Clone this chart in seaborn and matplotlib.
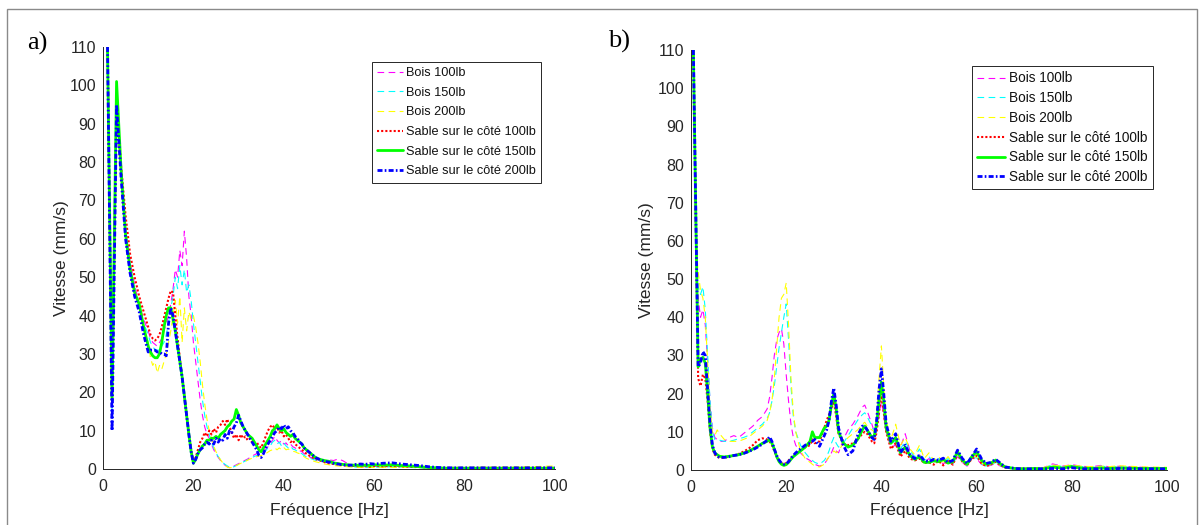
import matplotlib
matplotlib.use("Agg")
import matplotlib.pyplot as plt
from matplotlib.patches import Rectangle
import numpy as np
import pandas as pd
import seaborn as sns

# ---------------------------------------------------------------- data
labels = ["Bois 100lb", "Bois 150lb", "Bois 200lb",
          "Sable sur le côté 100lb", "Sable sur le côté 150lb",
          "Sable sur le côté 200lb"]

# (a) frequency grid [Hz] and velocity spectra [mm/s]
freq_a = [1, 2, 3, 4, 5, 6, 7, 8, 9, 10,
          10.5, 11, 11.5, 12, 12.5, 13, 13.5, 14, 14.5, 15,
          15.5, 16, 16.5, 17, 17.5, 18, 18.5, 19, 19.5, 20,
          20.5, 21, 21.5, 22, 22.5, 23, 23.5, 24, 24.5, 25,
          25.5, 26, 26.5, 27, 27.5, 28, 28.5, 29, 29.5, 30,
          30.5, 31, 31.5, 32, 32.5, 33, 33.5, 34, 34.5, 35,
          35.5, 36, 36.5, 37, 37.5, 38, 38.5, 39, 39.5, 40,
          40.5, 41, 41.5, 42, 42.5, 43, 43.5, 44, 44.5, 45,
          46, 47, 48, 49, 50, 51, 52, 53, 54, 55,
          56, 57, 58, 59, 60, 62, 64, 66, 68, 70,
          72, 74, 76, 78, 80, 85, 90, 95, 100]

bois100_a = [110, 16, 93, 77, 62, 54, 48, 43, 39, 36,
             34, 33, 32.5, 32, 33, 34, 36, 38, 40, 43,
             47, 52, 50, 57, 53, 62, 55, 45, 40, 33,
             28, 23, 18, 14, 11, 9, 8, 6.5, 5, 4,
             3, 2.2, 1.5, 1, 0.6, 0.4, 0.5, 0.8, 1.1, 1.4,
             1.7, 2, 2.3, 2.6, 3, 3.4, 3.7, 4, 4.2, 4.5,
             4.8, 5.2, 5.8, 6.5, 7.5, 8.5, 7.5, 6.8, 7.5, 6.5,
             6.8, 6, 6.5, 5.8, 5.5, 5, 4.8, 4.5, 4, 3.5,
             3, 2.6, 2.3, 2, 2.4, 2.2, 2.6, 2.2, 1.5, 1,
             0.6, 0.5, 0.6, 0.5, 0.7, 0.6, 0.8, 0.6, 0.5, 0.4,
             0.3, 0.3, 0.3, 0.3, 0.3, 0.3, 0.3, 0.3, 0.3]

bois150_a = [110, 14, 93, 76, 61, 53, 47, 42, 38, 35,
             33, 32, 31, 31, 31, 32, 33, 35, 38, 42,
             45, 50, 47, 53, 48, 52, 46, 48, 44, 38,
             33, 28, 23, 18, 14, 11, 9, 7, 5.5, 4.2,
             3.2, 2.4, 1.7, 1.2, 0.8, 0.5, 0.4, 0.6, 0.9, 1.2,
             1.5, 1.8, 2.1, 2.4, 2.7, 3, 3.3, 3.5, 3.8, 4,
             4.3, 4.8, 5.5, 6, 7, 7.5, 6.5, 7, 6, 6.8,
             6, 5.5, 6, 5.2, 5, 4.6, 4.2, 4, 3.5, 3.2,
             2.7, 2.3, 2, 1.8, 1.6, 1.4, 1.3, 1.1, 0.9, 0.7,
             0.5, 0.5, 0.5, 0.4, 0.5, 0.5, 0.6, 0.5, 0.4, 0.3,
             0.3, 0.3, 0.3, 0.3, 0.3, 0.3, 0.3, 0.3, 0.3]

bois200_a = [110, 18, 91, 75, 60, 52, 46, 42, 37, 33,
             29, 27, 28, 25, 27, 26, 28, 30, 33, 36,
             40, 44, 38, 45, 33, 42, 36, 41, 39, 40,
             37, 33, 28, 22, 17, 13, 10, 8, 6, 4.5,
             3.3, 2.4, 1.6, 1, 0.5, 0.3, 0.4, 0.6, 0.9, 1.2,
             1.5, 1.8, 2, 2.3, 2.6, 2.8, 3, 3.2, 3.4, 3.5,
             3.8, 4, 4.4, 4.8, 5, 5.5, 5, 5.5, 5, 5.6,
             5, 5.2, 4.8, 4.6, 4.5, 4.2, 4, 3.6, 3.2, 2.8,
             2.3, 1.9, 1.6, 1.3, 1.1, 0.9, 0.8, 0.7, 0.6, 0.5,
             0.4, 0.4, 0.4, 0.4, 0.4, 0.4, 0.4, 0.4, 0.4, 0.4,
             0.4, 0.4, 0.4, 0.4, 0.4, 0.5, 0.5, 0.6, 0.8]

sable100_a = [110, 17, 96, 79, 66, 56, 50, 45, 41, 37,
              35, 34, 33.5, 34, 35, 37, 39.5, 42, 44.5, 46.5,
              46, 40, 34, 29, 24, 19, 14, 9, 5, 2,
              3, 5, 7, 8, 9.5, 8.5, 10, 9, 10.5, 9.5,
              11, 11.5, 12.5, 11.5, 13, 11, 9.5, 8, 9, 7.5,
              9, 8, 8.5, 7.5, 8, 7, 6.5, 7, 6, 5.5,
              7, 8.5, 10, 11, 11.5, 10.5, 11, 9.5, 10, 8.5,
              9, 8, 7, 7.5, 6.5, 6, 5.5, 5, 4.5, 4,
              3.2, 2.6, 2.2, 1.8, 1.5, 1.3, 1.2, 1, 0.9, 0.8,
              0.8, 0.7, 0.8, 0.6, 0.8, 0.7, 0.8, 0.7, 0.6, 0.5,
              0.4, 0.3, 0.3, 0.3, 0.3, 0.3, 0.3, 0.3, 0.3]

sable150_a = [110, 18, 101, 78, 61, 52, 46, 43, 37, 32,
              30.5, 29.5, 29, 29, 30, 33, 37, 40, 42, 42,
              39, 36, 32, 28, 24, 19, 14, 9, 4.5, 1.5,
              2.5, 4, 5, 6, 6.5, 7.5, 7.5, 8, 8, 8.5,
              8, 9, 9.5, 10, 11, 11.5, 12.5, 13, 15.5, 14,
              12, 11, 10, 9, 8.5, 8, 7, 6, 5, 4.5,
              5.5, 6.5, 7.5, 8.5, 10, 10.5, 11.5, 10.5, 10, 10.5,
              9.5, 9, 8.5, 9, 8, 7.5, 7, 6.5, 5.5, 5,
              4, 3, 2.5, 2.2, 2, 1.6, 1.4, 1.2, 1.1, 1,
              1, 0.9, 1, 0.9, 1.1, 1, 1.1, 0.9, 0.8, 0.6,
              0.4, 0.3, 0.2, 0.2, 0.2, 0.2, 0.2, 0.2, 0.2]

sable200_a = [110, 10, 95, 76, 60, 51, 45, 41, 35, 30.5,
              31, 31, 31, 30.5, 30.5, 30, 30, 29.5, 38, 42,
              40, 36, 32, 28, 24, 19, 14, 9, 4.5, 1.5,
              2.5, 4, 5, 5.5, 6.5, 7, 6.5, 7.5, 6.5, 8,
              7, 8, 7.5, 9, 8, 10, 9.5, 11, 12, 14,
              12.5, 11, 10, 9, 8, 7, 6, 5, 3.5, 3,
              4, 5.5, 6.5, 7.5, 8.5, 9.5, 10, 11, 10.5, 11.5,
              10.5, 11, 10, 9.5, 8.5, 8, 7, 6.5, 5.5, 5,
              4, 3, 2.4, 2, 1.8, 1.5, 1.3, 1.1, 1, 1,
              1.2, 1.3, 1.2, 1.4, 1.3, 1.5, 1.6, 1.3, 1.1, 0.9,
              0.6, 0.4, 0.3, 0.3, 0.3, 0.3, 0.3, 0.3, 0.3]

# (b) frequency grid [Hz] and velocity spectra [mm/s]
freq_b = [0.5, 1, 1.5, 2, 2.5, 3, 3.5, 4, 4.5, 5,
          5.5, 6, 7, 8, 9, 10, 11, 12, 13, 14,
          15, 16, 16.5, 17, 17.5, 18, 18.5, 19, 19.5, 20,
          20.5, 21, 21.5, 22, 23, 24, 25, 25.5, 26, 27,
          28, 28.5, 29, 29.5, 30, 30.5, 31, 32, 33, 34,
          35, 36, 36.5, 37, 38, 38.5, 39, 39.5, 40, 40.5,
          41, 42, 43, 44, 45, 46, 47, 48, 49, 50,
          51, 52, 53, 54, 55, 56, 57, 58, 59, 60,
          61, 62, 63, 64, 65, 66, 68, 70, 72, 74,
          76, 78, 80, 82, 84, 86, 88, 90, 95, 100]

bois100_b = [110, 62, 45, 40, 42, 38, 28, 18, 11, 8.5,
             8, 7.5, 7.5, 8.5, 9, 8.5, 9.5, 10.5, 11.5, 13,
             14, 16, 19, 24, 30, 34, 36, 37, 33, 25,
             18, 12, 8.5, 6.5, 4.5, 3.2, 2.5, 2, 1.5, 1,
             1.5, 2.5, 3.5, 4.5, 6, 5, 4.5, 8, 10.5, 12,
             14, 16.5, 17, 15.5, 12, 10, 11, 14, 18, 14,
             10, 6, 6.5, 6, 9.5, 5, 3, 4, 2, 3,
             2, 3, 1.5, 3, 1.5, 3.5, 2, 1, 3, 3,
             1.5, 1, 1.2, 1.8, 1, 0.6, 0.4, 0.4, 0.5, 0.6,
             1.6, 1, 1.4, 1, 0.8, 1.2, 0.8, 1, 0.7, 0.6]

bois150_b = [110, 58, 48, 46, 48, 42, 30, 18, 10, 8,
             8, 7.8, 7.5, 7.5, 7.8, 8.2, 8.5, 9, 10, 11,
             12, 13.5, 15, 18, 22, 27, 32, 36, 40, 43.5,
             34, 22, 14, 10, 6.5, 4.5, 3, 2.5, 2, 1.5,
             2.5, 3.5, 5, 7, 8.5, 7, 6, 7, 9, 11,
             13, 14.5, 15, 14, 11.5, 10, 12, 17, 22, 16,
             11, 7, 7.5, 5.5, 7.5, 5, 3.5, 5.5, 2.5, 3.5,
             2, 3, 1.8, 3, 1.6, 3.8, 2.2, 1.2, 3.2, 3.2,
             1.6, 1, 1.3, 2, 1.1, 0.7, 0.4, 0.4, 0.5, 0.5,
             1.4, 0.9, 1.2, 0.9, 0.7, 1, 0.8, 0.9, 0.6, 0.5]

bois200_b = [110, 60, 52, 47, 45, 40, 28, 16, 10, 9,
             10.5, 9.5, 8, 7.5, 7.5, 7.5, 8, 8.5, 9.5, 10.5,
             11.5, 13, 15, 18, 24, 32, 40, 45, 46, 49,
             38, 24, 15, 10, 5, 3, 2, 1.5, 1, 0.8,
             1.5, 2.5, 3.5, 4, 5, 4.5, 5, 7, 8.5, 9.5,
             10.5, 12, 12.5, 11.5, 10.5, 10, 14, 24, 32.5, 22,
             13, 8, 12, 6.5, 8.5, 5.5, 4, 6.5, 3, 4.5,
             2.5, 3.5, 2, 3.5, 1.8, 4.2, 2.5, 1.4, 3.5, 3.5,
             1.8, 1.1, 1.4, 2.2, 1.2, 0.8, 0.5, 0.5, 0.6, 0.6,
             1.3, 1, 1.3, 1, 0.9, 1, 0.9, 1.1, 0.8, 0.7]

sable100_b = [110, 66, 24, 22, 25, 24, 18, 10, 5.5, 4,
              3.5, 3.2, 3.2, 3.5, 3.8, 4.2, 4.8, 5.5, 6.5, 7.8,
              8.3, 8, 7.5, 6.5, 5, 3.5, 2.5, 1.8, 1.5, 1.8,
              2.5, 3.2, 3.8, 4.3, 5, 6, 6.5, 8, 7, 7.5,
              11, 13, 14.5, 16, 18, 14, 9.5, 7, 6.5, 7,
              8, 9.5, 10, 9.5, 7.5, 7, 10, 15, 20, 15,
              10, 5.5, 7, 3.5, 5, 3, 2.5, 3, 1.8, 2,
              1.4, 2.4, 1.2, 2.5, 1.4, 4.2, 2.2, 1.2, 3, 3.8,
              1.8, 1, 1.5, 2.2, 1.3, 0.6, 0.4, 0.3, 0.3, 0.3,
              0.7, 0.4, 0.7, 0.4, 0.3, 0.4, 0.3, 0.4, 0.3, 0.3]

sable150_b = [110, 68, 27, 29, 29.5, 28, 20, 11, 6, 4.5,
              4, 3.6, 3.4, 3.6, 3.8, 4, 4.4, 4.8, 5.5, 6.2,
              7, 7.5, 8, 7, 5.5, 3.5, 2.2, 1.5, 1.2, 1.4,
              2, 2.8, 3.5, 4, 5, 6, 7.5, 10, 8.5, 8.5,
              11, 11.5, 13, 17, 20, 16, 10, 7, 6, 6.5,
              8, 10.5, 11.5, 10.5, 8.5, 9, 12, 18, 23, 18,
              11, 7, 8.5, 4.5, 6, 3.8, 2.8, 3.5, 2, 2,
              2.4, 2.2, 2.8, 1.8, 2.2, 4.8, 2.6, 1.5, 3.5, 4.8,
              2.6, 1.5, 1.8, 2.6, 1.6, 0.8, 0.4, 0.3, 0.4, 0.3,
              0.8, 0.5, 0.9, 0.5, 0.4, 0.5, 0.4, 0.5, 0.4, 0.4]

sable200_b = [110, 68, 27, 28, 31, 30, 21, 12, 6.5, 4.5,
              3.6, 3.3, 3.3, 3.5, 3.8, 4, 4.3, 4.8, 5.3, 6,
              6.8, 7.8, 8.7, 7.5, 5.5, 3.8, 2.6, 1.8, 1.5, 1.6,
              2.2, 3, 3.8, 4.5, 5.5, 6.5, 7, 7.5, 8, 6.2,
              9, 10.5, 13, 18, 21.5, 17, 11, 6.5, 4, 5,
              9, 11.5, 11.5, 10.5, 8.5, 8, 13, 21, 26.5, 20,
              12, 7.5, 9.5, 4.5, 6.5, 4, 3, 3.9, 2.5, 2.2,
              2.8, 2.5, 3.1, 2, 2.5, 5.2, 3, 1.7, 3.5, 5.5,
              3, 1.7, 2, 2.8, 1.8, 0.8, 0.4, 0.3, 0.3, 0.3,
              0.4, 0.3, 0.6, 0.3, 0.3, 0.3, 0.3, 0.4, 0.3, 0.3]

x_ticks = [0, 20, 40, 60, 80, 100]
y_ticks = [0, 10, 20, 30, 40, 50, 60, 70, 80, 90, 100, 110]

# ---------------------------------------------------------------- styles
colors = dict(zip(labels, ["#FF00FF", "#00FFFF", "#FFFF00",
                           "#FF0000", "#00FF00", "#0000FF"]))
widths = dict(zip(labels, [0.8, 0.8, 0.8, 1.5, 2.0, 2.0]))
dashes = dict(zip(labels, [(6, 4), (6, 4), (6, 4), (1, 1), "",
                           (1.8, 0.8, 0.6, 0.8)]))

sns.set_theme(style="white")
plt.rcParams["font.family"] = ["Liberation Sans", "DejaVu Sans"]
INK = "#262626"


def long_frame(freq, columns):
    parts = []
    for name, vals in zip(labels, columns):
        assert len(vals) == len(freq), name
        parts.append(pd.DataFrame({"Fréquence": freq, "Vitesse": vals,
                                   "Essai": name}))
    return pd.concat(parts, ignore_index=True)


def draw_panel(ax, frame, legend_anchor, legend_size, legend_gap,
               ylab_x, xlab_y):
    sns.lineplot(data=frame, x="Fréquence", y="Vitesse",
                 hue="Essai", style="Essai", size="Essai",
                 hue_order=labels, style_order=labels, size_order=labels,
                 palette=colors, dashes=dashes, sizes=widths,
                 estimator=None, sort=False, legend="full", ax=ax)
    ax.set_xlim(0, 100)
    ax.set_ylim(0, 110)
    ax.set_xticks(x_ticks)
    ax.set_yticks(y_ticks)
    for side in ("top", "right"):
        ax.spines[side].set_visible(False)
    for side in ("left", "bottom"):
        ax.spines[side].set_color(INK)
        ax.spines[side].set_linewidth(0.7)
    ax.tick_params(direction="in", length=3, width=0.6, colors=INK,
                   labelsize=11.5)
    ax.tick_params(axis="x", pad=7)
    ax.tick_params(axis="y", pad=5)
    ax.set_xlabel("Fréquence [Hz]", fontsize=12.5, color=INK)
    ax.set_ylabel("Vitesse (mm/s)", fontsize=12.5, color=INK)
    ax.xaxis.set_label_coords(0.5, xlab_y)
    ax.yaxis.set_label_coords(ylab_x, 0.5)
    ax.xaxis.label.set_va("top")

    handles, names = ax.get_legend_handles_labels()
    keep = [(h, n) for h, n in zip(handles, names) if n in labels]
    leg = ax.legend([h for h, _ in keep], [n for _, n in keep],
                    loc="upper left", bbox_to_anchor=legend_anchor,
                    bbox_transform=ax.figure.transFigure,
                    borderaxespad=0, fontsize=legend_size, frameon=True,
                    fancybox=False, framealpha=1, edgecolor=INK,
                    handlelength=2.0, handletextpad=0.3, borderpad=0.4,
                    labelspacing=legend_gap)
    leg.get_frame().set_linewidth(0.7)
    for t in leg.get_texts():
        t.set_color("#111111")


W, H = 1204, 525
fig = plt.figure(figsize=(W / 100, H / 100), dpi=100)
fig.patch.set_facecolor("white")

ax_a = fig.add_axes([103 / W, (H - 469) / H, 452 / W, 422 / H])
ax_b = fig.add_axes([691 / W, (H - 470) / H, 476 / W, 420 / H])

frame_a = long_frame(freq_a, [bois100_a, bois150_a, bois200_a,
                              sable100_a, sable150_a, sable200_a])
frame_b = long_frame(freq_b, [bois100_b, bois150_b, bois200_b,
                              sable100_b, sable150_b, sable200_b])

draw_panel(ax_a, frame_a, (372 / W, 1 - 62 / H), 9.2, 0.6, -0.075, -0.08)
draw_panel(ax_b, frame_b, (972 / W, 1 - 66 / H), 9.8, 0.42, -0.078, -0.079)

# panel letters
fig.text(27 / W, 1 - 50 / H, "a)", family="Liberation Serif", fontsize=19,
         va="baseline", ha="left", color="black")
fig.text(608 / W, 1 - 48 / H, "b)", family="Liberation Serif", fontsize=19,
         va="baseline", ha="left", color="black")

# outer frame of the figure
fig.add_artist(Rectangle((7 / W, -0.05), 1190 / W, (H - 9) / H + 0.05,
                         transform=fig.transFigure, fill=False,
                         edgecolor="#8a8a8a", linewidth=1.0))

fig.savefig("out.png", dpi=100)
